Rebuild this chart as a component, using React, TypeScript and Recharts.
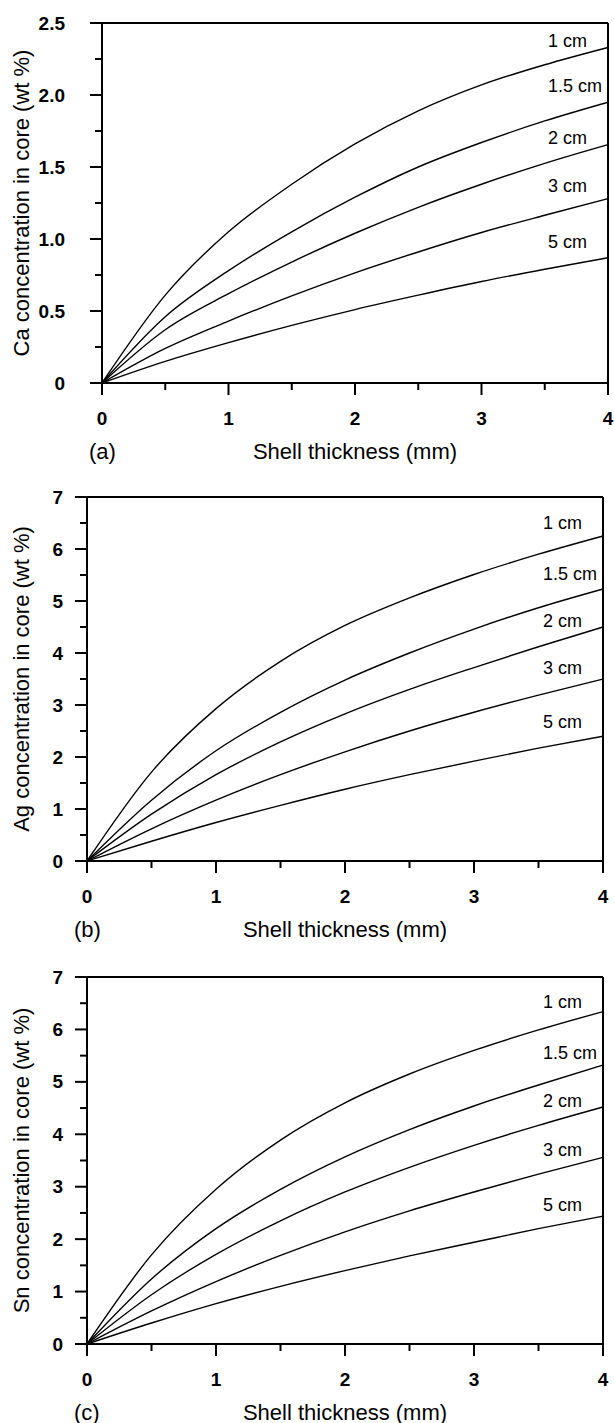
import React from 'react';
import { LineChart, Line, XAxis, YAxis, ReferenceLine, Label } from 'recharts';

// shell thickness (mm) sampled along each curve
const thickness = [0, 0.5, 1, 1.5, 2, 2.5, 3, 3.5, 4];
const curveNames = ['1 cm', '1.5 cm', '2 cm', '3 cm', '5 cm'];

// (a) Ca concentration in core (wt %), one row per casting size
const caValues = [
  [0, 0.61, 1.05, 1.38, 1.66, 1.89, 2.07, 2.21, 2.33],
  [0, 0.46, 0.78, 1.05, 1.29, 1.5, 1.67, 1.82, 1.95],
  [0, 0.37, 0.62, 0.84, 1.04, 1.22, 1.38, 1.525, 1.655],
  [0, 0.24, 0.43, 0.605, 0.765, 0.91, 1.045, 1.165, 1.28],
  [0, 0.15, 0.28, 0.4, 0.51, 0.61, 0.705, 0.79, 0.87],
];

// (b) Ag concentration in core (wt %)
const agValues = [
  [0, 1.71, 2.93, 3.84, 4.53, 5.06, 5.51, 5.9, 6.25],
  [0, 1.17, 2.12, 2.86, 3.48, 4.0, 4.46, 4.87, 5.23],
  [0, 0.9, 1.66, 2.29, 2.83, 3.3, 3.72, 4.12, 4.5],
  [0, 0.62, 1.17, 1.66, 2.1, 2.5, 2.86, 3.19, 3.5],
  [0, 0.38, 0.74, 1.07, 1.38, 1.66, 1.92, 2.17, 2.4],
];

// (c) Sn concentration in core (wt %)
const snValues = [
  [0, 1.7, 2.95, 3.89, 4.6, 5.15, 5.6, 5.99, 6.34],
  [0, 1.24, 2.2, 2.95, 3.57, 4.09, 4.54, 4.94, 5.32],
  [0, 0.94, 1.71, 2.35, 2.9, 3.37, 3.79, 4.17, 4.52],
  [0, 0.63, 1.19, 1.69, 2.14, 2.54, 2.9, 3.24, 3.56],
  [0, 0.4, 0.77, 1.1, 1.4, 1.68, 1.94, 2.2, 2.44],
];

const xTicks = [0, 0.5, 1, 1.5, 2, 2.5, 3, 3.5, 4];
const caTicks = [0, 0.25, 0.5, 0.75, 1, 1.25, 1.5, 1.75, 2, 2.25, 2.5];
const wtTicks = [0, 0.5, 1, 1.5, 2, 2.5, 3, 3.5, 4, 4.5, 5, 5.5, 6, 6.5, 7];

const FONT = '"Liberation Sans", Arial, Helvetica, sans-serif';
const INK = '#000';

const buildRows = (values: number[][]) =>
  thickness.map((t, i) => {
    const row: Record<string, number> = { t };
    values.forEach((series, k) => {
      row[`c${k}`] = series[i];
    });
    return row;
  });

const XTick = (props: any) => {
  const { x, y, payload } = props;
  const v = payload.value as number;
  const major = Number.isInteger(v);
  return (
    <g>
      <line x1={x} y1={y} x2={x} y2={y + (major ? 12 : 7)} stroke={INK} strokeWidth={2} />
      {major && (
        <text x={x} y={y + 35} textAnchor="middle" dominantBaseline="central" fontFamily={FONT} fontWeight="bold" fontSize={19} fill={INK}>
          {v}
        </text>
      )}
    </g>
  );
};

const makeYTick = (majorStep: number, gap: number, decimals: number) => (props: any) => {
  const { x, y, payload } = props;
  const v = payload.value as number;
  const major = Math.abs(v / majorStep - Math.round(v / majorStep)) < 1e-6;
  return (
    <g>
      <line x1={x - (major ? 12 : 7)} y1={y} x2={x} y2={y} stroke={INK} strokeWidth={2} />
      {major && (
        <text x={x - gap} y={y} textAnchor="end" dominantBaseline="central" fontFamily={FONT} fontWeight="bold" fontSize={19} fill={INK}>
          {v === 0 ? '0' : v.toFixed(decimals)}
        </text>
      )}
    </g>
  );
};

interface PanelProps {
  tag: string;
  yTitle: string;
  values: number[][];
  yMax: number;
  yTicks: number[];
  majorStep: number;
  decimals: number;
  top: number;
  height: number;
  marginTop: number;
  axisLeft: number;
  marginRight: number;
  xAxisHeight: number;
  tickGap: number;
  labelDy: number[];
}

const Panel: React.FC<PanelProps> = (p) => {
  const rows = buildRows(p.values);
  const last = rows.length - 1;
  const YTick = makeYTick(p.majorStep, p.tickGap, p.decimals);

  return (
    <div style={{ position: 'absolute', left: 0, top: p.top }}>
      <LineChart
        width={614}
        height={p.height}
        data={rows}
        margin={{ top: p.marginTop, right: p.marginRight, bottom: 0, left: 0 }}
      >
        <XAxis
          dataKey="t"
          type="number"
          domain={[0, 4]}
          ticks={xTicks}
          interval={0}
          height={p.xAxisHeight}
          tickSize={0}
          tickMargin={0}
          tickLine={false}
          tick={XTick}
          axisLine={{ stroke: INK, strokeWidth: 2 }}
        >
          <Label
            content={(lp: any) => {
              const vb = lp.viewBox;
              if (!vb) return null;
              return (
                <g fontFamily={FONT} fontSize={22} fill={INK}>
                  <text x={vb.x + vb.width / 2} y={vb.y + 68} textAnchor="middle" dominantBaseline="central">
                    Shell thickness (mm)
                  </text>
                  <text x={vb.x - 13} y={vb.y + 68} textAnchor="start" dominantBaseline="central">
                    {p.tag}
                  </text>
                </g>
              );
            }}
          />
        </XAxis>
        <YAxis
          type="number"
          domain={[0, p.yMax]}
          ticks={p.yTicks}
          interval={0}
          width={p.axisLeft}
          tickSize={0}
          tickMargin={0}
          tickLine={false}
          tick={YTick}
          axisLine={{ stroke: INK, strokeWidth: 2 }}
        >
          <Label
            content={(lp: any) => {
              const vb = lp.viewBox;
              if (!vb) return null;
              const cx = vb.x + 21;
              const cy = vb.y + vb.height / 2;
              return (
                <text
                  x={cx}
                  y={cy}
                  transform={`rotate(-90 ${cx} ${cy})`}
                  textAnchor="middle"
                  dominantBaseline="central"
                  fontFamily={FONT}
                  fontSize={22}
                  fill={INK}
                >
                  {p.yTitle}
                </text>
              );
            }}
          />
        </YAxis>
        <ReferenceLine y={p.yMax} stroke={INK} strokeWidth={2} />
        <ReferenceLine x={4} stroke={INK} strokeWidth={2} />
        {curveNames.map((name, k) => (
          <Line
            key={name}
            dataKey={`c${k}`}
            type="monotone"
            stroke={INK}
            strokeWidth={1.4}
            isAnimationActive={false}
            activeDot={false}
            dot={(dp: any) =>
              dp.index === last ? (
                <text
                  key={`lbl-${k}`}
                  x={dp.cx - 60}
                  y={dp.cy + p.labelDy[k]}
                  textAnchor="start"
                  fontFamily={FONT}
                  fontSize={18}
                  fill={INK}
                >
                  {name}
                </text>
              ) : (
                <g key={`d-${k}-${dp.index}`} />
              )
            }
          />
        ))}
      </LineChart>
    </div>
  );
}

export default function App() {
  return (
    <div style={{ position: 'absolute', left: 0, top: 0, width: 614, height: 1423, background: '#fff' }}>
      <Panel
        tag="(a)"
        yTitle="Ca concentration in core (wt %)"
        values={caValues}
        yMax={2.5}
        yTicks={caTicks}
        majorStep={0.5}
        decimals={1}
        top={0}
        height={470}
        marginTop={23}
        axisLeft={102}
        marginRight={6}
        xAxisHeight={87}
        tickGap={37}
        labelDy={[0, -10, -1, -7, -10]}
      />
      <Panel
        tag="(b)"
        yTitle="Ag concentration in core (wt %)"
        values={agValues}
        yMax={7}
        yTicks={wtTicks}
        majorStep={1}
        decimals={0}
        top={470}
        height={480}
        marginTop={27}
        axisLeft={87}
        marginRight={11}
        xAxisHeight={89}
        tickGap={24}
        labelDy={[-7, -9, 0, -5, -8]}
      />
      <Panel
        tag="(c)"
        yTitle="Sn concentration in core (wt %)"
        values={snValues}
        yMax={7}
        yTicks={wtTicks}
        majorStep={1}
        decimals={0}
        top={950}
        height={473}
        marginTop={27}
        axisLeft={87}
        marginRight={11}
        xAxisHeight={79}
        tickGap={24}
        labelDy={[-4, -6, 0, -1, -5]}
      />
    </div>
  );
}
